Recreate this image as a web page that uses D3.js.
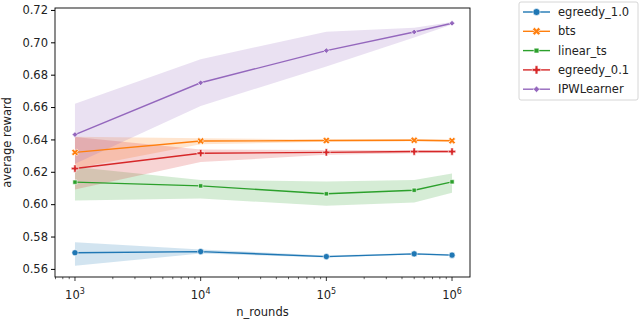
<!DOCTYPE html>
<html>
<head>
<meta charset="utf-8">
<script src="https://cdn.jsdelivr.net/npm/d3@7"></script>
<style>
  body { margin: 0; background: #fff; }
  text { font-family: "DejaVu Sans", sans-serif; fill: #222; }
</style>
</head>
<body>
<svg id="chart" width="640" height="323"></svg>
<script>
// Values
const nRounds = [1e3, 1e4, 1e5, 5e5, 1e6];
const policies = ['egreedy_1.0', 'bts', 'linear_ts', 'egreedy_0.1', 'IPWLearner'];
const colors = ['#1f77b4', '#ff7f0e', '#2ca02c', '#d62728', '#9467bd'];

const meanReward = [
  [0.5700, 0.5707, 0.5676, 0.5693, 0.5685],
  [0.6320, 0.6390, 0.6393, 0.6395, 0.6392],
  [0.6136, 0.6113, 0.6064, 0.6086, 0.6138],
  [0.6220, 0.6315, 0.6320, 0.6325, 0.6325],
  [0.6430, 0.6750, 0.6949, 0.7064, 0.7118]
];
const lowerReward = [
  [0.5620, 0.5695, 0.5670, 0.5688, 0.5680],
  [0.6220, 0.6370, 0.6385, 0.6388, 0.6385],
  [0.6022, 0.6035, 0.5990, 0.6010, 0.6070],
  [0.6090, 0.6260, 0.6305, 0.6315, 0.6318],
  [0.6250, 0.6607, 0.6850, 0.7030, 0.7110]
];
const upperReward = [
  [0.5765, 0.5720, 0.5683, 0.5698, 0.5690],
  [0.6416, 0.6408, 0.6400, 0.6402, 0.6398],
  [0.6230, 0.6150, 0.6140, 0.6150, 0.6190],
  [0.6415, 0.6338, 0.6335, 0.6333, 0.6332],
  [0.6620, 0.6895, 0.7066, 0.7090, 0.7125]
];
const yTicks = [0.56, 0.58, 0.60, 0.62, 0.64, 0.66, 0.68, 0.70, 0.72];
const xExps = [3, 4, 5, 6];

const svg = d3.select('#chart');
const plot = { left: 55, right: 470, top: 8, bottom: 277 };

const x = d3.scaleLog().domain([Math.pow(10, 2.841), Math.pow(10, 6.143)]).range([plot.left, plot.right]);
const y = d3.scaleLinear().domain([0.5550, 0.7212]).range([plot.bottom, plot.top]);

// bands
policies.forEach((p, i) => {
  const pts = nRounds.map((n, j) => ({ n, lo: lowerReward[i][j], hi: upperReward[i][j] }));
  svg.append('path')
      .attr('d', d3.area().x(d => x(d.n)).y0(d => y(d.lo)).y1(d => y(d.hi))(pts))
      .attr('fill', colors[i])
      .attr('fill-opacity', 0.2);
});

// marker shapes (seaborn defaults: o, X, square, P, diamond)
function markerPath(i, size) {
  const s = size || 1;
  if (i === 0) return d3.symbol(d3.symbolCircle, 30 * s)();
  if (i === 1) return d3.symbol(d3.symbolCross, 30 * s)();
  if (i === 2) return d3.symbol(d3.symbolSquare, 18 * s)();
  if (i === 3) return d3.symbol(d3.symbolCross, 30 * s)();
  return d3.symbol(d3.symbolSquare, 16 * s)();
}
const markerRotate = [0, 45, 0, 0, 45];

// lines + markers
policies.forEach((p, i) => {
  const pts = nRounds.map((n, j) => ({ n, v: meanReward[i][j] }));
  svg.append('path')
      .attr('d', d3.line().x(d => x(d.n)).y(d => y(d.v))(pts))
      .attr('fill', 'none')
      .attr('stroke', colors[i])
      .attr('stroke-width', 1.4);
  svg.append('g').selectAll('path')
    .data(pts)
    .join('path')
      .attr('d', markerPath(i))
      .attr('transform', d => `translate(${x(d.n)},${y(d.v)}) rotate(${markerRotate[i]})`)
      .attr('fill', colors[i])
      .attr('stroke', '#fff')
      .attr('stroke-width', 0.6);
});

// frame
svg.append('rect')
    .attr('x', plot.left).attr('y', plot.top)
    .attr('width', plot.right - plot.left).attr('height', plot.bottom - plot.top)
    .attr('fill', 'none').attr('stroke', '#000').attr('stroke-width', 0.9);

// y axis
const yAxis = svg.append('g').attr('transform', `translate(${plot.left},0)`)
  .call(d3.axisLeft(y).tickValues(yTicks).tickFormat(d3.format('.2f')).tickSize(4).tickPadding(3));
yAxis.select('.domain').remove();
yAxis.selectAll('text').attr('font-size', 11.5).style('font-family', '"DejaVu Sans", sans-serif').attr('fill', '#222');

// x axis (log, minor ticks)
const minor = [];
for (let e = 2; e <= 6; e++) {
  for (let k = 2; k <= 9; k++) {
    const v = k * Math.pow(10, e);
    if (v >= x.domain()[0] && v <= x.domain()[1]) minor.push(v);
  }
}
const xg = svg.append('g').attr('transform', `translate(0,${plot.bottom})`);
xg.selectAll('line.minor').data(minor).join('line')
    .attr('class', 'minor')
    .attr('x1', d => x(d)).attr('x2', d => x(d))
    .attr('y1', 0).attr('y2', 2.2)
    .attr('stroke', '#000').attr('stroke-width', 0.6);
xg.selectAll('line.major').data(xExps).join('line')
    .attr('class', 'major')
    .attr('x1', d => x(Math.pow(10, d))).attr('x2', d => x(Math.pow(10, d)))
    .attr('y1', 0).attr('y2', 4)
    .attr('stroke', '#000').attr('stroke-width', 0.8);
const xl = xg.selectAll('text').data(xExps).join('text')
    .attr('x', d => x(Math.pow(10, d)))
    .attr('y', 22)
    .attr('text-anchor', 'middle')
    .attr('font-size', 11.5);
xl.append('tspan').text('10');
xl.append('tspan').attr('dy', -5).attr('font-size', 8).text(d => d);

// axis titles
svg.append('text')
    .attr('x', (plot.left + plot.right) / 2).attr('y', 316)
    .attr('text-anchor', 'middle').attr('font-size', 11.5)
    .text('n_rounds');
svg.append('text')
    .attr('transform', `translate(11,${(plot.top + plot.bottom) / 2}) rotate(-90)`)
    .attr('text-anchor', 'middle').attr('font-size', 11.5)
    .text('average reward');

// legend
const lg = svg.append('g').attr('transform', 'translate(519,2)');
lg.append('rect')
    .attr('width', 119).attr('height', 98)
    .attr('rx', 2)
    .attr('fill', '#fff').attr('stroke', '#ccc').attr('stroke-width', 0.8);
policies.forEach((p, i) => {
  const cy = 10 + i * 19.3;
  lg.append('line')
      .attr('x1', 4).attr('x2', 31).attr('y1', cy).attr('y2', cy)
      .attr('stroke', colors[i]).attr('stroke-width', 1.4);
  lg.append('path')
      .attr('d', markerPath(i, 1.3))
      .attr('transform', `translate(17.5,${cy}) rotate(${markerRotate[i]})`)
      .attr('fill', colors[i]).attr('stroke', '#fff').attr('stroke-width', 0.6);
  lg.append('text')
      .attr('x', 39).attr('y', cy + 4)
      .attr('font-size', 11.5)
      .text(p);
});
</script>
</body>
</html>
